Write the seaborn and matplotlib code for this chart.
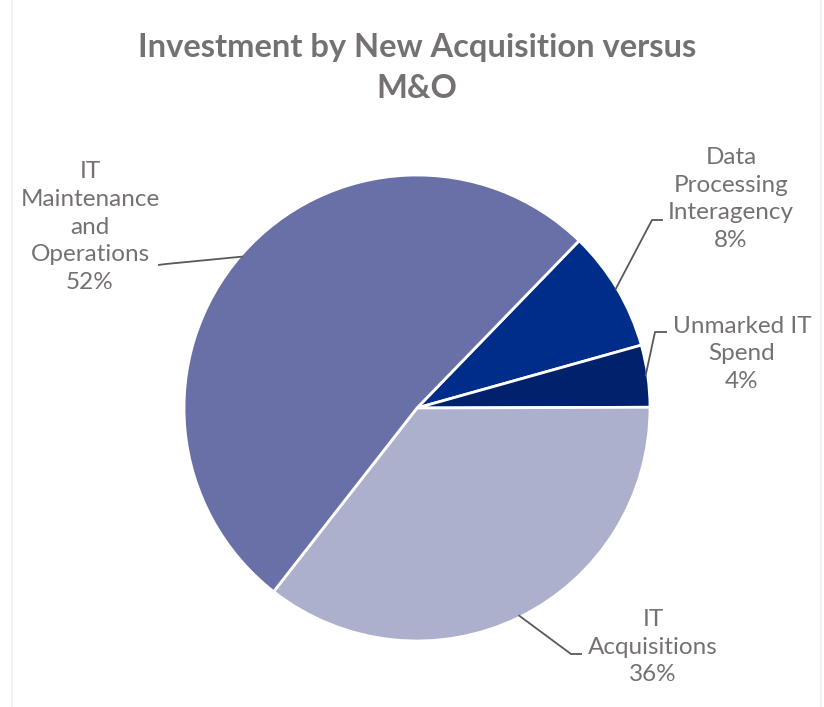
import matplotlib
matplotlib.use("Agg")
import matplotlib.pyplot as plt
import seaborn as sns
import numpy as np

# data (clockwise from the upper right)
categories = ["Data\nProcessing\nInteragency", "Unmarked IT\nSpend", "IT\nAcquisitions",
              "IT\nMaintenance\nand\nOperations"]
shares = [8.4, 4.3, 35.6, 51.7]
colors = ["#002D8A", "#00216B", "#ADB0CC", "#6970A8"]

sns.set_theme(style="white")
plt.rcParams["font.family"] = ["Lato", "DejaVu Sans"]

W, H = 824, 707
fig = plt.figure(figsize=(W / 100, H / 100), dpi=100)
ax = fig.add_axes([0, 0, 1, 1])

# faint chart border at left and right
ax.plot([12, 12], [0, H], color="#EFEFEF", lw=1.2)
ax.plot([821, 821], [0, H], color="#EFEFEF", lw=1.2)

cx, cy, R = 417, H - 408, 233
start = 90 - 44.1
wedges, _ = ax.pie(shares, colors=colors, startangle=start, counterclock=False,
                   center=(cx, cy), radius=R, frame=True,
                   wedgeprops=dict(edgecolor="white", linewidth=2.0))
ax.set_xlim(0, W)
ax.set_ylim(0, H)
ax.set_aspect("equal")
ax.axis("off")

ax.text(417, H - 48, "Investment by New Acquisition versus", ha="center", va="center",
        fontsize=23.5, fontweight="bold", color="#767171")
ax.text(417, H - 88, "M&O", ha="center", va="center",
        fontsize=23.5, fontweight="bold", color="#767171")

# label block centres and leader elbows (pixel layout, y from top)
label_pos = [(731, 199), (742, 354), (653, 647), (90, 227)]
elbows = [[(652, 220), (663, 220)],
          [(655, 332), (667, 332)],
          [(571, 654), (582, 654)],
          [(166, 264), (158, 265)]]

for w, cat, v, (lx, ly), elb in zip(wedges, categories, shares, label_pos, elbows):
    mid = np.deg2rad((w.theta1 + w.theta2) / 2)
    ax_ = cx + 0.99 * R * np.cos(mid)
    ay_ = cy + 0.99 * R * np.sin(mid)
    xs = [ax_] + [p[0] for p in elb]
    ys = [ay_] + [H - p[1] for p in elb]
    ax.plot(xs, ys, color="#595959", lw=1.3, solid_capstyle="butt")
    ax.text(lx, H - ly, f"{cat}\n{v:.0f}%", ha="center", va="center",
            fontsize=17.5, color="#767171", linespacing=1.4)

fig.savefig("out.png", dpi=100, facecolor="white")
